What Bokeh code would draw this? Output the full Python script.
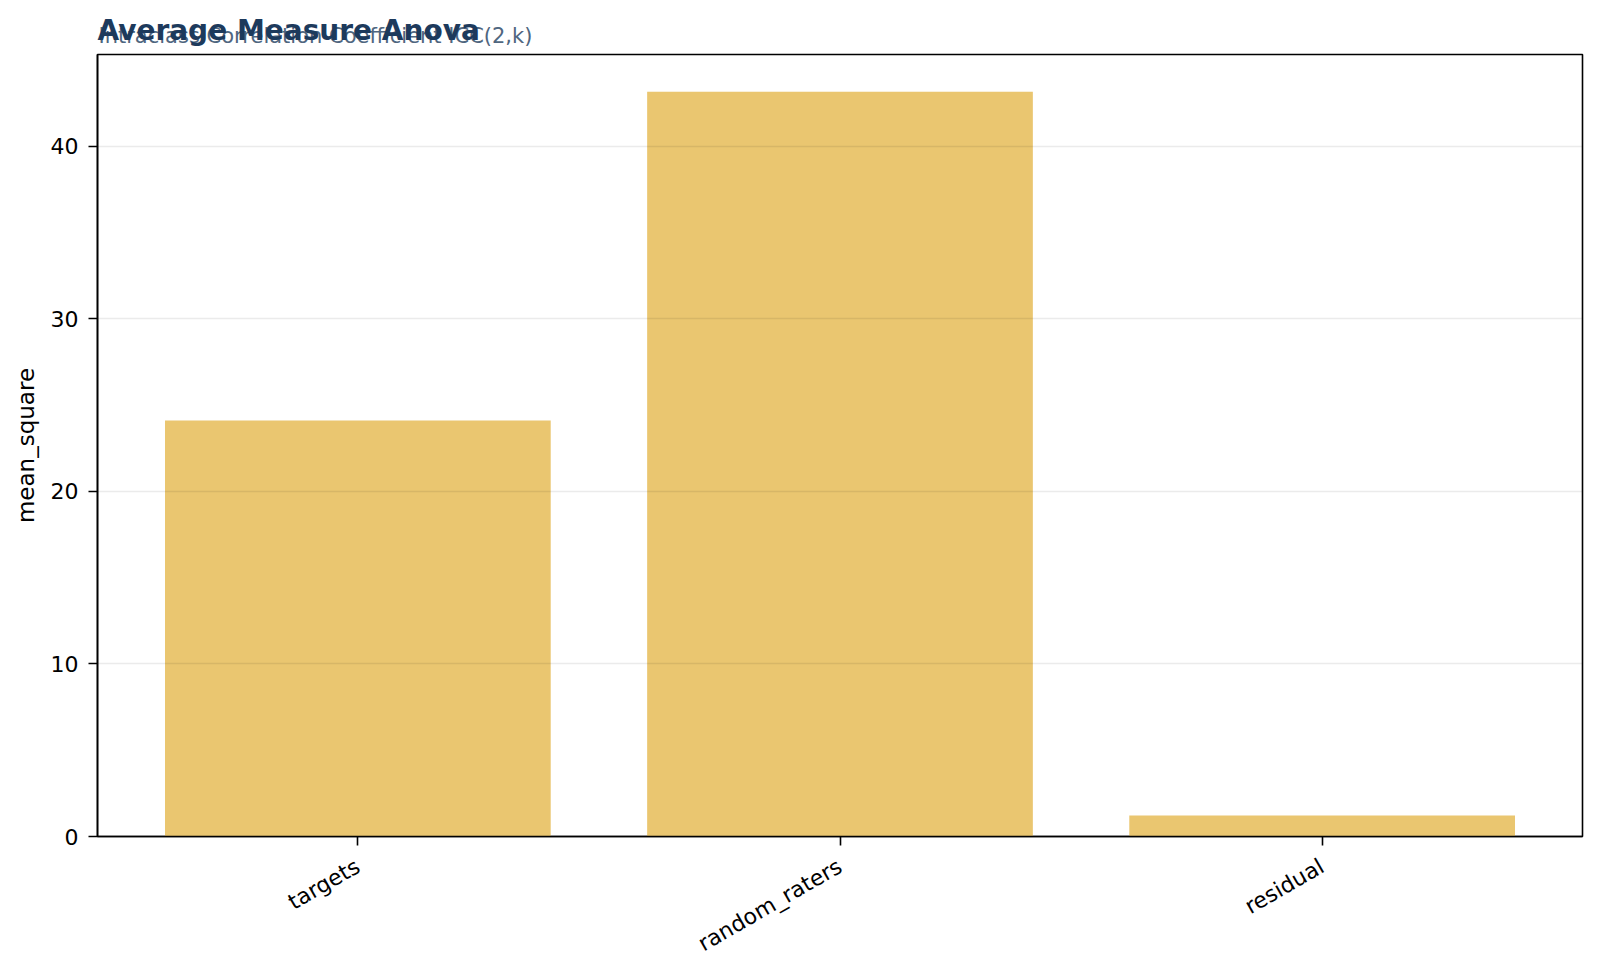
from math import pi
from bokeh.plotting import figure
from bokeh.models import Range1d, FactorRange, Title, FixedTicker, ColumnDataSource
from bokeh.embed import file_html
from bokeh.resources import INLINE

# ---- data ----
categories = ["targets", "random_raters", "residual"]
mean_square = [24.1, 43.15, 1.21]
y_ticks = [0, 10, 20, 30, 40]
title_text = "Average Measure Anova"
subtitle_text = "Intraclass Correlation Coefficient ICC(2,k)"
y_label = "mean_square"

src = ColumnDataSource(dict(cat=categories, val=mean_square))

FONT = "DejaVu Sans"

p = figure(
    width=1592, height=970,
    x_range=FactorRange(*categories, range_padding=0.08 / 3, range_padding_units="percent"),
    y_range=Range1d(0, max(mean_square) * 1.05),
    output_backend="svg", toolbar_location=None,
    min_border_left=97, min_border_right=10, min_border_top=54, min_border_bottom=134,
)
p.background_fill_color = "white"
p.border_fill_color = "white"
p.outline_line_color = "black"
p.outline_line_width = 1.6

p.vbar(x="cat", top="val", width=0.8, source=src,
       fill_color="#e9c46a", fill_alpha=0.96, line_color=None)

# grid
p.xgrid.grid_line_color = None
p.ygrid.grid_line_color = "black"
p.ygrid.grid_line_alpha = 0.08
p.ygrid.grid_line_width = 1.5
p.ygrid.level = "overlay"
p.ygrid.ticker = FixedTicker(ticks=y_ticks)

# axes
for ax in (p.xaxis[0], p.yaxis[0]):
    ax.axis_line_color = "black"
    ax.axis_line_width = 1.6
    ax.major_tick_line_color = "black"
    ax.major_tick_line_width = 1.6
    ax.major_tick_out = 9
    ax.major_tick_in = 0
    ax.minor_tick_line_color = None
    ax.major_label_text_font = FONT
    ax.major_label_text_font_size = "22px"
    ax.major_label_text_color = "black"
    ax.axis_label_text_font = FONT
    ax.axis_label_text_font_size = "23px"
    ax.axis_label_text_font_style = "normal"
    ax.axis_label_text_color = "black"

p.yaxis[0].ticker = FixedTicker(ticks=y_ticks)
p.yaxis[0].major_label_standoff = 10
p.yaxis[0].axis_label = y_label
p.yaxis[0].axis_label_standoff = 9

p.xaxis[0].major_label_orientation = pi / 6
p.xaxis[0].major_label_standoff = 19

# titles (overlapping as in reference)
p.add_layout(Title(text=subtitle_text, text_font=FONT, text_font_size="21px",
                   text_font_style="normal", text_color="#4f6680", align="left",
                   offset=1, standoff=14), "above")
p.add_layout(Title(text=title_text, text_font=FONT, text_font_size="28px",
                   text_font_style="bold", text_color="#1d3a5c", align="left",
                   offset=0, standoff=-64), "above")

open("out.html", "w").write(file_html(p, INLINE))
